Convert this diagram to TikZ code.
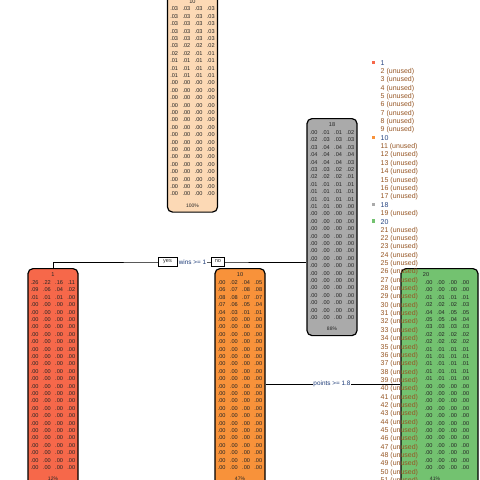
\documentclass[tikz,border=0pt]{standalone}
\usepackage{fontspec}
\setmainfont{Liberation Sans}
\usepackage{xcolor}
\usetikzlibrary{positioning}

\definecolor{rootpeach}{RGB}{252,217,181}
\definecolor{leafred}{RGB}{246,104,74}
\definecolor{leaforange}{RGB}{248,146,58}
\definecolor{innergray}{RGB}{170,170,170}
\definecolor{leafgreen}{RGB}{115,194,112}
\definecolor{usedtxt}{RGB}{40,70,130}
\definecolor{unusedtxt}{RGB}{150,85,35}
\definecolor{splittxt}{RGB}{30,60,120}

% four class probabilities per row, rows that are all .00 filled in after
\newcommand{\probrows}[4]{%
  \foreach \pa/\pb/\pc/\pd [count=\i] in {#4} {
    \node[prob] at (#1-18.3, #2+7.1+\i*7.4) {\pa};
    \node[prob] at (#1-6.1, #2+7.1+\i*7.4) {\pb};
    \node[prob] at (#1+6.1, #2+7.1+\i*7.4) {\pc};
    \node[prob] at (#1+18.3, #2+7.1+\i*7.4) {\pd};
  }
  \foreach \i in {#3,...,26} {
    \node[prob] at (#1-18.3, #2+7.1+\i*7.4) {.00};
    \node[prob] at (#1-6.1, #2+7.1+\i*7.4) {.00};
    \node[prob] at (#1+6.1, #2+7.1+\i*7.4) {.00};
    \node[prob] at (#1+18.3, #2+7.1+\i*7.4) {.00};
  }
}

\begin{document}
\begin{tikzpicture}[x=1pt, y=-1pt,
  box/.style={draw, line width=1.2pt, rounded corners=5pt, minimum width=50pt,
    minimum height=217pt, anchor=north, inner sep=0pt},
  prob/.style={font=\fontsize{5.6}{6}\selectfont, inner sep=0pt, text=black!85},
  pct/.style={font=\fontsize{5}{6}\selectfont, inner sep=0pt, text=black!85},
  link/.style={line width=0.9pt},
  yesno/.style={draw, line width=0.6pt, fill=white, font=\fontsize{5.6}{6}\selectfont,
    inner sep=1.2pt, minimum width=19pt, minimum height=9pt, text=black!80},
  splitlab/.style={fill=white, inner sep=0.6pt, font=\fontsize{6.4}{7}\selectfont, text=splittxt},
  legtxt/.style={anchor=west, inner sep=0pt, font=\fontsize{7}{8}\selectfont},
  legkey/.style={minimum size=3.6pt, inner sep=0pt}]

\clip (0,0) rectangle (480,480);
\fill[white] (0,0) rectangle (480,480);

% root
\node[box, fill=rootpeach] (root) at (192.5,-5.5) {};
\node[prob] (rootlab) at (192.5,1.5) {10};
\probrows{192.5}{-5.5}{11}{.03/.03/.03/.03, .03/.03/.03/.03, .03/.03/.03/.03,
  .03/.03/.03/.03, .03/.03/.03/.03, .03/.02/.02/.02, .02/.02/.01/.01,
  .01/.01/.01/.01, .01/.01/.01/.01, .01/.01/.01/.01}
\node[pct] (rootpct) at (192.5,205.5) {100\%};

% inner node
\node[box, fill=innergray] (right) at (332,118) {};
\node[prob] (rightlab) at (332,125) {18};
\probrows{332}{118}{12}{.00/.01/.01/.02, .02/.03/.03/.03, .03/.04/.04/.03,
  .04/.04/.04/.04, .04/.04/.04/.03, .03/.03/.02/.02, .02/.02/.02/.01,
  .01/.01/.01/.01, .01/.01/.01/.01, .01/.01/.01/.01, .01/.01/.00/.00}
\node[pct] (rightpct) at (332,329) {88\%};

% leaves
\node[box, fill=leafred] (left) at (53,268) {};
\node[prob] (leftlab) at (53,275) {1};
\probrows{53}{268}{4}{.26/.22/.16/.11, .09/.06/.04/.02, .01/.01/.01/.00}
\node[pct] (leftpct) at (53,479) {12\%};

\node[box, fill=leaforange] (rightL) at (240,268) {};
\node[prob] (rightLlab) at (240,275) {10};
\probrows{240}{268}{6}{.00/.02/.04/.05, .06/.07/.08/.08, .08/.08/.07/.07,
  .07/.06/.05/.04, .04/.03/.01/.01}
\node[pct] (rightLpct) at (240,479) {47\%};

\node[box, fill=leafgreen, minimum width=77pt] (rightR) at (439.5,268) {};
\node[prob] (rightRlab) at (426,275) {20};
\probrows{447}{268}{15}{.00/.00/.00/.00, .00/.00/.00/.00, .01/.01/.01/.01,
  .02/.02/.02/.03, .04/.04/.05/.05, .05/.05/.04/.04, .03/.03/.03/.03,
  .02/.02/.02/.02, .02/.02/.02/.02, .01/.01/.01/.01, .01/.01/.01/.01,
  .01/.01/.01/.01, .01/.01/.01/.01, .01/.01/.01/.00}
\node[pct] (rightRpct) at (435,479) {41\%};

% branches
\coordinate (rootsplit) at (192.5,262);
\coordinate (innersplit) at (332,384);
\draw[link] (left.north) |- (rootsplit) -- (rootsplit -| right.west);
\draw[link] (innersplit -| rightL.east) -- (innersplit -| rightR.west);

\node[yesno] (yes) at (167.5,261.5) {yes};
\node[splitlab] (wins) at (rootsplit) {wins >= 1};
\node[yesno, minimum width=13pt] (no) at (218,261.5) {no};
\node[splitlab] (points) at (innersplit) {points >= 1.8};

% legend
\node[legkey, fill=leafred] (key1) at (373.5,62.5) {};
\node[legkey, fill=leaforange] (key10) at (373.5,62.5+9*8.35) {};
\node[legkey, fill=innergray] (key18) at (373.5,62.5+17*8.35) {};
\node[legkey, fill=leafgreen] (key20) at (373.5,62.5+19*8.35) {};
\foreach \k in {1,10,18,20}
  \node[legtxt, text=usedtxt] (leg\k) at (380.5,63.3+\k*8.35-8.35) {\k};
\foreach \k in {2,...,9}
  \node[legtxt, text=unusedtxt] (leg\k) at (380.5,63.3+\k*8.35-8.35) {\k\ (unused)};
\foreach \k in {11,...,17}
  \node[legtxt, text=unusedtxt] (leg\k) at (380.5,63.3+\k*8.35-8.35) {\k\ (unused)};
\node[legtxt, text=unusedtxt] (leg19) at (380.5,63.3+18*8.35) {19 (unused)};
\foreach \k in {21,...,52}
  \node[legtxt, text=unusedtxt] (leg\k) at (380.5,63.3+\k*8.35-8.35) {\k\ (unused)};

\end{tikzpicture}
\end{document}
